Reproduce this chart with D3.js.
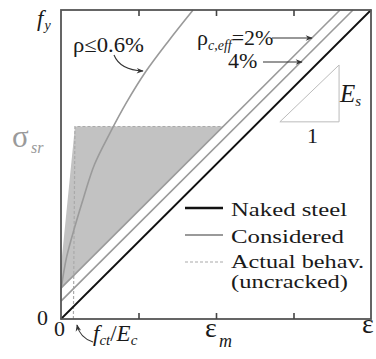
<!DOCTYPE html>
<html>
<head>
<meta charset="utf-8">
<script src="https://cdn.jsdelivr.net/npm/d3@7"></script>
<style>
  html, body { margin: 0; padding: 0; background: #fff; }
  svg { display: block; }
</style>
</head>
<body>
<svg id="chart" width="376" height="359"></svg>
<script>
// ---- data (strain / fy normalised) ----
const nakedSteel = [[0, 0], [1, 1]];
const considered2 = [[0, 0.058], [0.942, 1]];
const considered4 = [[0, 0.1], [0.9, 1]];
const rhoCurve = [[0, 0.094], [0.018, 0.2], [0.045, 0.3], [0.075, 0.4], [0.108, 0.5],
                  [0.157, 0.6], [0.211, 0.7], [0.273, 0.8], [0.347, 0.9], [0.426, 1.0]];
const actualBehav = [[0.040, 0], [0.045, 0.623], [0.523, 0.623]];
const shadedArea = [[0, 0.1], [0, 0.17], [0.045, 0.623], [0.523, 0.623]];
const esTriangle = [[0.706, 0.638], [0.897, 0.638], [0.897, 0.822]];
const xTicks = [0.25, 0.5, 0.75];
const legendItems = ["Naked steel", "Considered", "Actual behav."];

const FONT = "'Liberation Serif', 'Times New Roman', Times, 'DejaVu Serif', serif";
const svg = d3.select("#chart").attr("font-family", FONT).style("font-family", FONT);
const x = d3.scaleLinear().domain([0, 1]).range([61, 371]);
const y = d3.scaleLinear().domain([0, 1]).range([319, 10]);
const line = d3.line().x(d => x(d[0])).y(d => y(d[1]));

function txt(xp, yp, size) {
  return svg.append("text").attr("x", xp).attr("y", yp).attr("font-size", size)
    .attr("font-family", FONT).attr("fill", "#1a1a1a");
}

const defs = svg.append("defs");
defs.append("marker").attr("id", "arr").attr("viewBox", "0 0 10 10")
  .attr("refX", 9).attr("refY", 5).attr("markerWidth", 9).attr("markerHeight", 7)
  .attr("markerUnits", "userSpaceOnUse").attr("orient", "auto")
  .append("path").attr("d", "M0,1 L10,5 L0,9 L3,5 Z").attr("fill", "#333");

// shaded area
svg.append("path").attr("d", line(shadedArea) + "Z")
  .attr("fill", "#c2c2c2").attr("stroke", "none");

// actual behaviour dashed
svg.append("path").attr("d", line(actualBehav)).attr("fill", "none")
  .attr("stroke", "#aaa").attr("stroke-width", 1.2).attr("stroke-dasharray", "3,2");

// considered lines
[considered2, considered4].forEach(d => {
  svg.append("path").attr("d", line(d)).attr("fill", "none")
    .attr("stroke", "#9a9a9a").attr("stroke-width", 1.6);
});
// rho curve
svg.append("path")
  .attr("d", d3.line().x(d => x(d[0])).y(d => y(d[1])).curve(d3.curveCatmullRom.alpha(0.5))(rhoCurve))
  .attr("fill", "none").attr("stroke", "#9a9a9a").attr("stroke-width", 1.6);

// naked steel
svg.append("path").attr("d", line(nakedSteel)).attr("fill", "none")
  .attr("stroke", "#111").attr("stroke-width", 1.8);

// Es triangle
svg.append("path").attr("d", line(esTriangle) + "Z").attr("fill", "none")
  .attr("stroke", "#bbb").attr("stroke-width", 1);

// frame & ticks
svg.append("rect").attr("x", x(0)).attr("y", y(1)).attr("width", x(1) - x(0)).attr("height", y(0) - y(1))
  .attr("fill", "none").attr("stroke", "#555").attr("stroke-width", 1.8);
const topAxis = svg.append("g").attr("transform", `translate(0,${y(1)})`)
  .call(d3.axisTop(x).tickValues(xTicks).tickSize(-6).tickFormat(""));
const botAxis = svg.append("g").attr("transform", `translate(0,${y(0)})`)
  .call(d3.axisBottom(x).tickValues(xTicks).tickSize(-6).tickFormat(""));
[topAxis, botAxis].forEach(g => {
  g.select(".domain").remove();
  g.selectAll("line").attr("stroke", "#444").attr("stroke-width", 1.6);
});

// legend
const legY = [208, 235, 262];
const legStyles = [
  { stroke: "#111", w: 2.4, dash: null },
  { stroke: "#9a9a9a", w: 2.2, dash: null },
  { stroke: "#aaa", w: 1.2, dash: "3,2" }
];
const legW = [116, 113, 133];
const legBase = [216, 243, 268];
legendItems.forEach((t, i) => {
  svg.append("line").attr("x1", 185).attr("x2", 223).attr("y1", legY[i]).attr("y2", legY[i])
    .attr("stroke", legStyles[i].stroke).attr("stroke-width", legStyles[i].w)
    .attr("stroke-dasharray", legStyles[i].dash);
  txt(231, legBase[i], 19).attr("textLength", legW[i]).attr("lengthAdjust", "spacingAndGlyphs").text(t);
});
txt(231, 288, 18.5).attr("textLength", 117).attr("lengthAdjust", "spacingAndGlyphs").text("(uncracked)");

// axis labels
const fy = txt(37, 26, 23);
fy.append("tspan").attr("font-style", "italic").text("f");
fy.append("tspan").attr("font-style", "italic").attr("font-size", 14).attr("dx", 1).attr("dy", 4).text("y");

txt(12, 147, 31).attr("fill", "#9a9a9a").text("σ");
txt(31, 153, 16).attr("fill", "#9a9a9a").attr("font-style", "italic").text("sr");

txt(37, 325, 22).text("0");
txt(54, 336, 22).text("0");

const fct = txt(93, 341, 23);
fct.append("tspan").attr("font-style", "italic").text("f");
fct.append("tspan").attr("font-style", "italic").attr("font-size", 15).attr("dy", 4).text("ct");
fct.append("tspan").attr("dy", -4).text("/");
fct.append("tspan").attr("font-style", "italic").text("E");
fct.append("tspan").attr("font-style", "italic").attr("font-size", 15).attr("dy", 4).text("c");

txt(205, 337, 28).text("ε");
txt(219, 347, 18).attr("font-style", "italic").text("m");

txt(362, 333, 28).text("ε");

// annotations
txt(73, 52, 21).attr("textLength", 71).attr("lengthAdjust", "spacingAndGlyphs").text("ρ≤0.6%");
svg.append("path").attr("d", "M114,55 Q120,70 143,71").attr("fill", "none")
  .attr("stroke", "#333").attr("stroke-width", 1.1).attr("marker-end", "url(#arr)");

const rce = txt(197, 45, 22);
rce.append("tspan").text("ρ");
rce.append("tspan").attr("font-style", "italic").attr("font-size", 14).attr("dy", 5).text("c,eff");
rce.append("tspan").attr("dy", -5).text("=2%");
svg.append("line").attr("x1", 272).attr("x2", 312).attr("y1", 38).attr("y2", 38)
  .attr("stroke", "#333").attr("stroke-width", 1.1).attr("marker-end", "url(#arr)");

txt(228, 68, 22).text("4%");
svg.append("line").attr("x1", 263).attr("x2", 302).attr("y1", 62).attr("y2", 62)
  .attr("stroke", "#333").attr("stroke-width", 1.1).attr("marker-end", "url(#arr)");

// f_ct/E_c arrow
svg.append("path").attr("d", "M93,342 Q80,338 77,325").attr("fill", "none")
  .attr("stroke", "#333").attr("stroke-width", 1.1).attr("marker-end", "url(#arr)");

// Es and 1
const es = txt(340, 102, 25);
es.append("tspan").attr("font-style", "italic").text("E");
es.append("tspan").attr("font-style", "italic").attr("font-size", 15).attr("dy", 4).text("s");
txt(307, 143, 22).text("1");
</script>
</body>
</html>
